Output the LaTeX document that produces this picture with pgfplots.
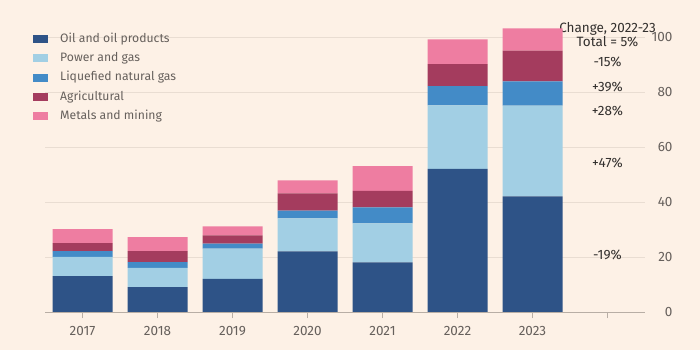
\documentclass[border=0pt]{standalone}
\usepackage{pgfplots}
\pgfplotsset{compat=1.18}
\usepackage{fontspec}
\setmainfont{Fira Sans}
\definecolor{bg}{HTML}{FDF1E6}
\definecolor{oil}{HTML}{2E5387}
\definecolor{power}{HTML}{A2CFE4}
\definecolor{lng}{HTML}{438BC7}
\definecolor{agri}{HTML}{A43C5E}
\definecolor{metal}{HTML}{EE7DA1}
\definecolor{gridc}{HTML}{E9DDD2}
\definecolor{axisc}{HTML}{B8AEA5}
\definecolor{tickc}{HTML}{66605C}
\definecolor{txt}{HTML}{33302E}
\begin{document}
\begin{tikzpicture}[x=1pt,y=1pt]
\fill[bg] (0,0) rectangle (700,350);
\useasboundingbox (0,0) rectangle (700,350);
\begin{axis}[
  at={(45pt,38pt)}, anchor=south west,
  scale only axis, width=600pt, height=275pt,
  xmin=-0.5, xmax=7.5, ymin=0, ymax=100, clip=false,
  ybar stacked, bar width=60pt,
  axis x line*=bottom, axis y line*=right,
  y axis line style={draw=none},
  x axis line style={axisc, line width=0.8pt},
  xtick={0,...,7}, xticklabels={2017,2018,2019,2020,2021,2022,2023,{}},
  ytick={0,20,...,100},
  ymajorgrids, grid style={gridc, line width=0.8pt},
  tick align=outside, major tick length=6pt,
  xtick style={axisc, line width=0.8pt},
  ytick style={draw=none},
  /pgf/number format/assume math mode=true,
  xticklabel style={font=\fontsize{13.5}{15}\selectfont, text=tickc, yshift=-5pt},
  yticklabel style={font=\fontsize{13.5}{15}\selectfont, text=tickc, anchor=east, xshift=25pt},
  legend style={at={(rel axis cs:0,1)}, anchor=north west, xshift=-12pt, yshift=6pt,
    draw=none, fill=none, inner sep=0pt, row sep=3.3pt,
    font=\fontsize{12.2}{14}\selectfont, text=tickc,
    nodes={text height=9pt, text depth=3pt},
    /tikz/every odd column/.append style={column sep=10pt}},
  legend cell align=left,
  legend image code/.code={\fill[#1] (0pt,-4pt) rectangle (15pt,4pt);},
]
\addplot[fill=oil, draw=none] coordinates {(0,13) (1,9) (2,12) (3,22) (4,18) (5,52) (6,42)};
\addplot[fill=power, draw=none] coordinates {(0,7) (1,7) (2,11) (3,12) (4,14.2) (5,23.1) (6,33)};
\addplot[fill=lng, draw=none] coordinates {(0,2.1) (1,2.1) (2,1.9) (3,2.9) (4,5.8) (5,7) (6,8.9)};
\addplot[fill=agri, draw=none] coordinates {(0,2.9) (1,4) (2,3) (3,6.2) (4,6) (5,8) (6,11.1)};
\addplot[fill=metal, draw=none] coordinates {(0,5.1) (1,5.1) (2,3.2) (3,4.8) (4,9) (5,9) (6,8.1)};
\legend{Oil and oil products, Power and gas, Liquefied natural gas, Agricultural, Metals and mining}
\node[font=\fontsize{13.5}{14}\selectfont, text=txt, align=center] at (axis cs:7,100.7) {Change, 2022-23\\Total = 5\%};
\node[font=\fontsize{13.5}{14}\selectfont, text=txt] at (axis cs:7,91) {-15\%};
\node[font=\fontsize{13.5}{14}\selectfont, text=txt] at (axis cs:7,81.8) {+39\%};
\node[font=\fontsize{13.5}{14}\selectfont, text=txt] at (axis cs:7,73.1) {+28\%};
\node[font=\fontsize{13.5}{14}\selectfont, text=txt] at (axis cs:7,54.2) {+47\%};
\node[font=\fontsize{13.5}{14}\selectfont, text=txt] at (axis cs:7,20.7) {-19\%};
\end{axis}
\end{tikzpicture}
\end{document}
